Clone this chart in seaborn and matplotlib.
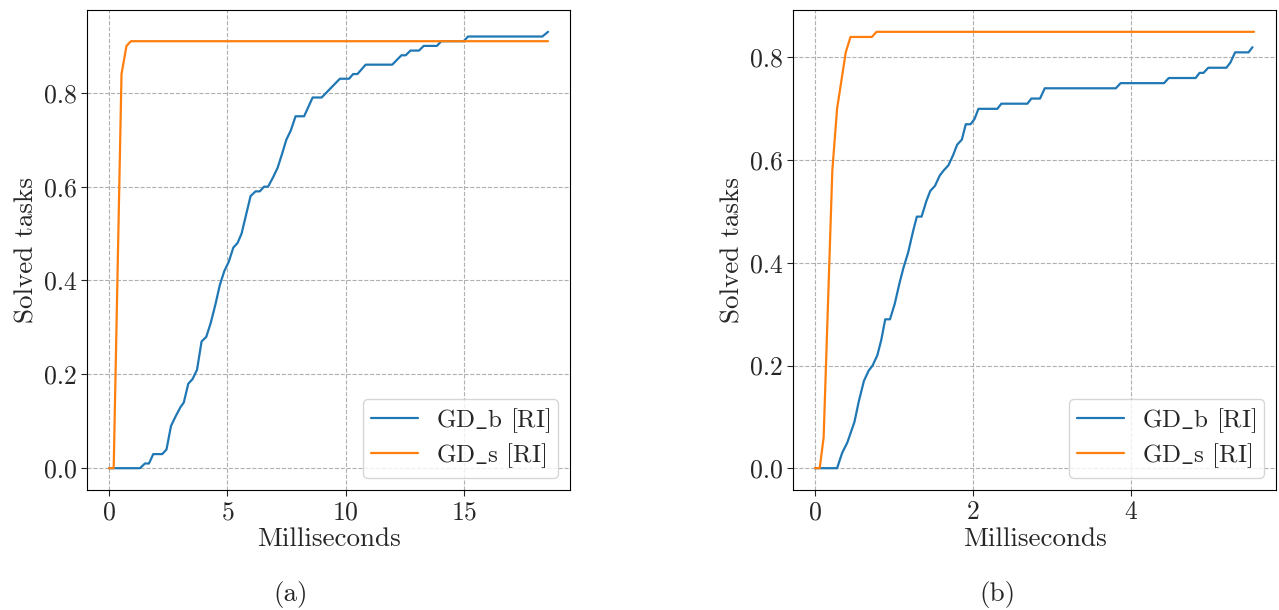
import matplotlib
matplotlib.use("Agg")
import matplotlib.pyplot as plt
import seaborn as sns

# ---- data ----
a_b_x = [0, 1.31, 1.52, 1.69, 1.87, 2.25, 2.43, 2.62, 2.81, 3.02, 3.16, 3.35, 3.53, 3.72, 3.91, 4.11,
         4.30, 4.50, 4.68, 4.87, 5.06, 5.25, 5.43, 5.60, 5.79, 5.98, 6.19, 6.37, 6.55, 6.72, 6.93, 7.12,
         7.31, 7.49, 7.68, 7.88, 8.24, 8.60, 8.98, 9.75, 10.14, 10.31, 10.49, 10.84, 11.96, 12.35, 12.53,
         12.73, 13.09, 13.29, 13.85, 14.03, 14.98, 15.16, 18.30, 18.54]
a_b_y = [0, 0, 0.01, 0.01, 0.03, 0.03, 0.04, 0.09, 0.11, 0.13, 0.14, 0.18, 0.19, 0.21, 0.27, 0.28,
         0.31, 0.35, 0.39, 0.42, 0.44, 0.47, 0.48, 0.50, 0.54, 0.58, 0.59, 0.59, 0.60, 0.60, 0.62, 0.64,
         0.67, 0.70, 0.72, 0.75, 0.75, 0.79, 0.79, 0.83, 0.83, 0.84, 0.84, 0.86, 0.86, 0.88, 0.88,
         0.89, 0.89, 0.90, 0.90, 0.91, 0.91, 0.92, 0.92, 0.93]
a_s_x = [0, 0.2, 0.53, 0.74, 0.93, 18.54]
a_s_y = [0, 0, 0.84, 0.90, 0.91, 0.91]

b_b_x = [0, 0.28, 0.345, 0.41, 0.50, 0.555, 0.62, 0.68, 0.73, 0.79, 0.84, 0.89, 0.95, 1.01, 1.07, 1.12,
         1.18, 1.24, 1.29, 1.35, 1.41, 1.46, 1.52, 1.58, 1.63, 1.69, 1.75, 1.80, 1.86, 1.91, 1.97, 2.02,
         2.07, 2.31, 2.36, 2.69, 2.74, 2.85, 2.91, 3.81, 3.87, 4.42, 4.48, 4.82, 4.87, 4.92, 4.98, 5.21,
         5.26, 5.32, 5.49, 5.54]
b_b_y = [0, 0, 0.03, 0.05, 0.09, 0.13, 0.17, 0.19, 0.20, 0.22, 0.25, 0.29, 0.29, 0.32, 0.36, 0.39,
         0.42, 0.46, 0.49, 0.49, 0.52, 0.54, 0.55, 0.57, 0.58, 0.59, 0.61, 0.63, 0.64, 0.67, 0.67, 0.68,
         0.70, 0.70, 0.71, 0.71, 0.72, 0.72, 0.74, 0.74, 0.75, 0.75, 0.76, 0.76, 0.77, 0.77, 0.78, 0.78,
         0.79, 0.81, 0.81, 0.82]
b_s_x = [0, 0.06, 0.11, 0.22, 0.28, 0.34, 0.39, 0.45, 0.72, 0.78, 5.56]
b_s_y = [0, 0, 0.06, 0.58, 0.70, 0.76, 0.81, 0.84, 0.84, 0.85, 0.85]

series_labels = [r"GD$\_$b [RI]", r"GD$\_$s [RI]"]
panel_labels = ["(a)", "(b)"]
x_label = "Milliseconds"
y_label = "Solved tasks"

# ---- style ----
sns.set_style("ticks")
plt.rcParams["font.family"] = ["cmr10", "DejaVu Serif"]
plt.rcParams["axes.formatter.use_mathtext"] = True
plt.rcParams["mathtext.fontset"] = "cm"
plt.rcParams["axes.unicode_minus"] = False

FS_TICK = 18.5
FS_LABEL = 19.5
FS_LEG = 18
colors = ["#1f77b4", "#ff7f0e"]

fig = plt.figure(figsize=(12.79, 6.10), dpi=100)
W, H = 1279, 610
ax1 = fig.add_axes([87 / W, (H - 490) / H, 483 / W, 480 / H])
ax2 = fig.add_axes([793 / W, (H - 490) / H, 483 / W, 480 / H])

panels = [
    (ax1, (a_b_x, a_b_y), (a_s_x, a_s_y)),
    (ax2, (b_b_x, b_b_y), (b_s_x, b_s_y)),
]
for ax, sb, ss in panels:
    sns.lineplot(x=sb[0], y=sb[1], ax=ax, color=colors[0], label=series_labels[0], linewidth=1.6)
    sns.lineplot(x=ss[0], y=ss[1], ax=ax, color=colors[1], label=series_labels[1], linewidth=1.6)
    ax.grid(True, linestyle="--", color="#b0b0b0", linewidth=0.8)
    ax.set_xlabel(x_label, fontsize=FS_LABEL, labelpad=2)
    ax.set_ylabel(y_label, fontsize=FS_LABEL)
    ax.tick_params(labelsize=FS_TICK, direction="out", length=4, width=0.8)
    ax.set_yticks([0.0, 0.2, 0.4, 0.6, 0.8])
    ax.set_yticklabels(["0.0", "0.2", "0.4", "0.6", "0.8"])
    for sp in ax.spines.values():
        sp.set_visible(True)
        sp.set_color("black")
        sp.set_linewidth(0.8)
    ax.legend(loc="lower right", fontsize=FS_LEG, frameon=True,
              labelspacing=0.25, borderpad=0.3, handlelength=1.9, handletextpad=0.7)

ax1.set_xticks([0, 5, 10, 15])
ax2.set_xticks([0, 2, 4])

fig.text(291 / W, 1 - 595 / H, panel_labels[0], ha="center", va="center", fontsize=FS_LABEL)
fig.text(997 / W, 1 - 595 / H, panel_labels[1], ha="center", va="center", fontsize=FS_LABEL)

fig.savefig("out.png", dpi=100)
